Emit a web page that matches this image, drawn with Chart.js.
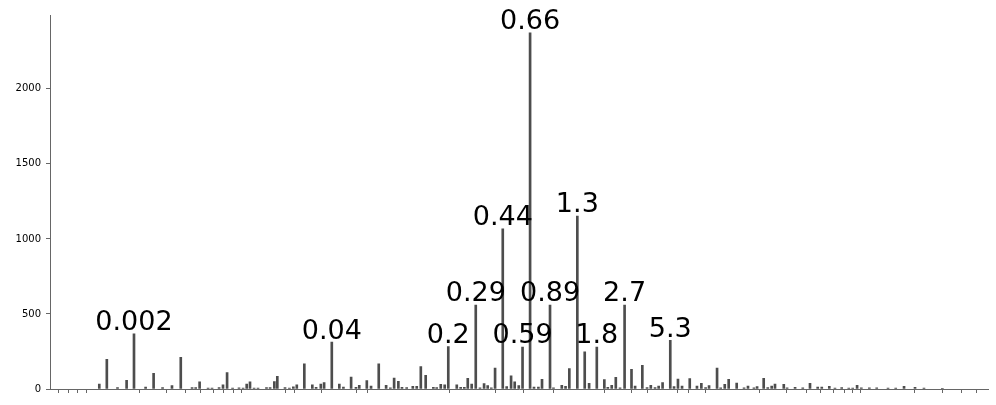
<!DOCTYPE html>
<html>
<head>
<meta charset="utf-8">
<script src="https://cdn.jsdelivr.net/npm/chart.js@4/dist/chart.umd.min.js"></script>
<style>
  html, body { margin: 0; padding: 0; background: #fff; }
  canvas { display: block; }
</style>
</head>
<body>
<canvas id="chart" width="996" height="405"></canvas>
<script>
// bin positions, log10 of the value
const binLog = [
  -2.924, -2.876, -2.808, -2.750, -2.703, -2.629, -2.578, -2.521, -2.461, -2.405,
  -2.333, -2.310, -2.285, -2.231, -2.206, -2.161, -2.136, -2.110, -2.075, -2.034,
  -2.008, -1.985, -1.964, -1.938, -1.913, -1.859, -1.836, -1.809, -1.790, -1.741,
  -1.713, -1.688, -1.666, -1.618, -1.567, -1.543, -1.513, -1.492, -1.443, -1.395,
  -1.369, -1.320, -1.289, -1.268, -1.220, -1.193, -1.144, -1.097, -1.070, -1.046,
  -1.019, -0.996, -0.966, -0.927, -0.902, -0.876, -0.845, -0.796, -0.775, -0.749,
  -0.724, -0.701, -0.647, -0.622, -0.599, -0.577, -0.552, -0.526, -0.499, -0.473,
  -0.450, -0.427, -0.403, -0.354, -0.329, -0.301, -0.278, -0.252, -0.228, -0.180,
  -0.155, -0.127, -0.104, -0.053, -0.031, 0.022, 0.046, 0.070, 0.121, 0.168,
  0.196, 0.245, 0.293, 0.315, 0.340, 0.366, 0.393, 0.422, 0.466, 0.489,
  0.535, 0.565, 0.589, 0.616, 0.639, 0.664, 0.713, 0.737, 0.762, 0.788,
  0.837, 0.883, 0.911, 0.938, 0.960, 1.011, 1.034, 1.060, 1.085, 1.136,
  1.183, 1.208, 1.246, 1.266, 1.308, 1.334, 1.359, 1.380, 1.436, 1.457,
  1.508, 1.557, 1.603, 1.652, 1.678, 1.726, 1.762, 1.805, 1.850, 1.875,
  1.903, 1.930, 1.981, 2.028, 2.100, 2.149, 2.202, 2.272, 2.329, 2.446
];
const counts = [
  33, 198, 10, 58, 367, 13, 104, 10, 22, 211,
  9, 9, 47, 6, 6, 10, 27, 109, 6, 7,
  6, 33, 47, 6, 6, 9, 9, 50, 84, 9,
  6, 15, 27, 167, 27, 11, 33, 42, 313, 33,
  13, 80, 11, 24, 56, 20, 167, 24, 8, 73,
  51, 11, 9, 18, 18, 149, 91, 11, 9, 31,
  27, 282, 27, 11, 11, 71, 33, 560, 8, 36,
  22, 8, 140, 1067, 16, 87, 47, 22, 280, 2373,
  13, 13, 64, 560, 8, 24, 18, 136, 1153, 247,
  38, 280, 62, 11, 24, 78, 8, 560, 131, 20,
  158, 10, 24, 10, 20, 42, 324, 16, 66, 20,
  70, 20, 38, 9, 22, 140, 8, 31, 64, 40,
  7, 20, 7, 16, 71, 9, 20, 33, 31, 7,
  11, 7, 38, 13, 13, 18, 6, 9, 6, 6,
  24, 7, 7, 7, 6, 6, 18, 11, 6, 5
];
// annotated bars: index into the arrays above, and their text
const labelIdx = [4, 38, 61, 67, 73, 78, 79, 83, 88, 91, 97, 106];
const labelText = ["0.002", "0.04", "0.2", "0.29", "0.44", "0.59", "0.66", "0.89", "1.3", "1.8", "2.7", "5.3"];

const xTicks = [
  -3.185, -3.121, -3.064, -3.005, -2.669, -2.494, -2.373, -2.278, -2.199, -2.132,
  -2.072, -2.021, -1.741, -1.682, -1.507, -1.284, -1.214, -0.696, -0.399, -0.223,
  -0.032, 0.293, 0.468, 0.567, 0.762, 0.832, 0.939, 1.280, 1.455, 1.578,
  1.673, 1.752, 1.822, 1.875, 1.924, 2.270, 2.446, 2.567, 2.665
];
const yTicks = [0, 500, 1000, 1500, 2000];

const barLabels = {
  id: "barLabels",
  afterDatasetsDraw(chart) {
    const ctx = chart.ctx;
    const bars = chart.getDatasetMeta(0).data;
    ctx.save();
    ctx.font = '27px "DejaVu Sans"';
    ctx.fillStyle = "#000";
    ctx.textAlign = "center";
    ctx.textBaseline = "alphabetic";
    labelIdx.forEach((i, k) => {
      const b = bars[i];
      ctx.fillText(labelText[k], b.x, b.y - 3.5);
    });
    ctx.restore();
  }
};

new Chart(document.getElementById("chart"), {
  type: "bar",
  data: {
    datasets: [{
      data: binLog.map((x, i) => ({ x: x, y: counts[i] })),
      backgroundColor: "#4d4d4d",
      borderWidth: 0,
      barThickness: 2
    }]
  },
  options: {
    responsive: false,
    animation: false,
    devicePixelRatio: 1,
    layout: { padding: { top: 15, right: 7.5, left: 0, bottom: 0 } },
    plugins: { legend: { display: false }, tooltip: { enabled: false } },
    scales: {
      x: {
        type: "linear",
        min: -3.238,
        max: 2.740,
        offset: false,
        afterBuildTicks: (s) => { s.ticks = xTicks.map(v => ({ value: v })); },
        afterFit: (s) => { s.height = 16; },
        ticks: { display: false },
        grid: { offset: false, drawOnChartArea: false, drawTicks: true, tickLength: 4, color: "#666" },
        border: { display: true, color: "#666", width: 1 }
      },
      y: {
        min: 0,
        max: 2492,
        afterBuildTicks: (s) => { s.ticks = yTicks.map(v => ({ value: v })); },
        afterFit: (s) => { s.width = 50; },
        ticks: {
          color: "#000",
          padding: 5,
          font: { family: "DejaVu Sans", size: 10 },
          callback: (v) => String(v)
        },
        grid: { drawOnChartArea: false, drawTicks: true, tickLength: 4, color: "#666" },
        border: { display: true, color: "#666", width: 1 }
      }
    }
  },
  plugins: [barLabels]
});
</script>
</body>
</html>
